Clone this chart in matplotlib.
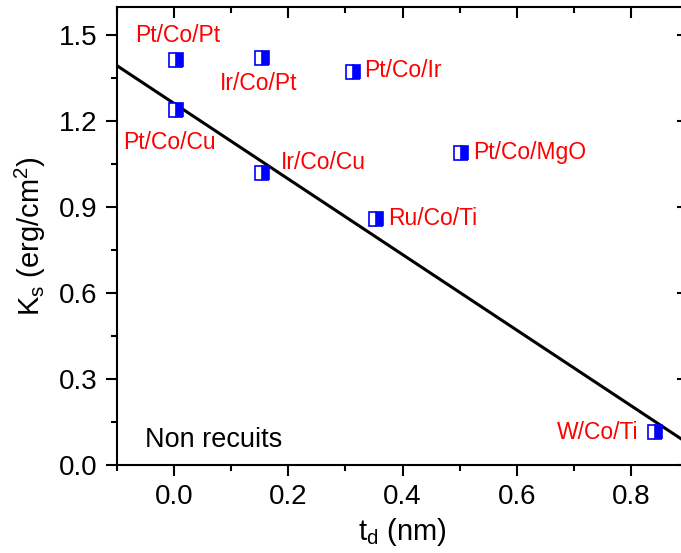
import matplotlib
matplotlib.use("Agg")
import matplotlib.pyplot as plt

plt.rcParams['font.family'] = ['Liberation Sans', 'DejaVu Sans']
plt.rcParams['mathtext.fontset'] = 'custom'
plt.rcParams['mathtext.rm'] = 'Liberation Sans'
plt.rcParams['mathtext.it'] = 'Liberation Sans'

# samples (not annealed)
stacks = ['Pt/Co/Pt', 'Pt/Co/Cu', 'Ir/Co/Pt', 'Ir/Co/Cu', 'Pt/Co/Ir',
          'Pt/Co/MgO', 'Ru/Co/Ti', 'W/Co/Ti']
t_d = [0.003, 0.003, 0.153, 0.153, 0.313, 0.502, 0.353, 0.842]
k_s = [1.415, 1.24, 1.42, 1.02, 1.373, 1.09, 0.86, 0.115]

# linear trend line end points
fit_t = [-0.1, 0.9]
fit_k = [1.394, 0.075]

# label anchors (t, K, alignment)
label_pos = {
    'Pt/Co/Pt': (0.006, 1.498, 'center'),
    'Pt/Co/Cu': (-0.009, 1.125, 'center'),
    'Ir/Co/Pt': (0.148, 1.331, 'center'),
    'Ir/Co/Cu': (0.187, 1.056, 'left'),
    'Pt/Co/Ir': (0.332, 1.376, 'left'),
    'Pt/Co/MgO': (0.523, 1.091, 'left'),
    'Ru/Co/Ti': (0.374, 0.861, 'left'),
    'W/Co/Ti': (0.812, 0.115, 'right'),
}

fig = plt.figure(figsize=(6.81, 5.53), dpi=100)
ax = fig.add_axes([0.1718, 0.1591, 1.0106 - 0.1718, 0.9879 - 0.1591])

ax.plot(fit_t, fit_k, color='black', lw=2.2, zorder=2)
ax.plot(t_d, k_s, ls='none', marker='s', ms=10.5, fillstyle='right',
        markerfacecolor='#0000ff', markerfacecoloralt='white',
        markeredgecolor='#0000ff', markeredgewidth=1.2, zorder=3)

for name in stacks:
    x, y, ha = label_pos[name]
    ax.text(x, y, name, color='#ff0000', fontsize=16.5, ha=ha, va='center')

ax.text(-0.051, 0.087, 'Non recuits', color='black', fontsize=19.5,
        ha='left', va='center')

ax.set_xlim(-0.1, 0.9)
ax.set_ylim(0, 1.6)
ax.set_xticks([0.0, 0.2, 0.4, 0.6, 0.8])
ax.set_xticks([-0.1, 0.1, 0.3, 0.5, 0.7, 0.9], minor=True)
ax.set_yticks([0.0, 0.3, 0.6, 0.9, 1.2, 1.5])
ax.set_yticks([0.15, 0.45, 0.75, 1.05, 1.35], minor=True)
ax.xaxis.set_major_formatter(plt.FormatStrFormatter('%.1f'))
ax.yaxis.set_major_formatter(plt.FormatStrFormatter('%.1f'))

ax.tick_params(which='major', direction='out', length=8, width=1.5,
               labelsize=20, pad=6)
ax.tick_params(which='minor', direction='out', length=4.5, width=1.5)
ax.tick_params(which='both', top=True, right=True)
ax.tick_params(axis='x', which='both', top=True)
for t in ax.xaxis.get_major_ticks() + ax.xaxis.get_minor_ticks():
    t.tick2line.set_marker(3)
for t in ax.yaxis.get_major_ticks() + ax.yaxis.get_minor_ticks():
    t.tick2line.set_marker(0)
for s in ax.spines.values():
    s.set_linewidth(1.5)

ax.set_xlabel('t$_\\mathrm{d}$ (nm)', fontsize=21, labelpad=4)
ax.set_ylabel('K$_\\mathrm{s}$ (erg/cm$^\\mathrm{2}$)', fontsize=21, labelpad=8)

fig.savefig('out.png', dpi=100)
